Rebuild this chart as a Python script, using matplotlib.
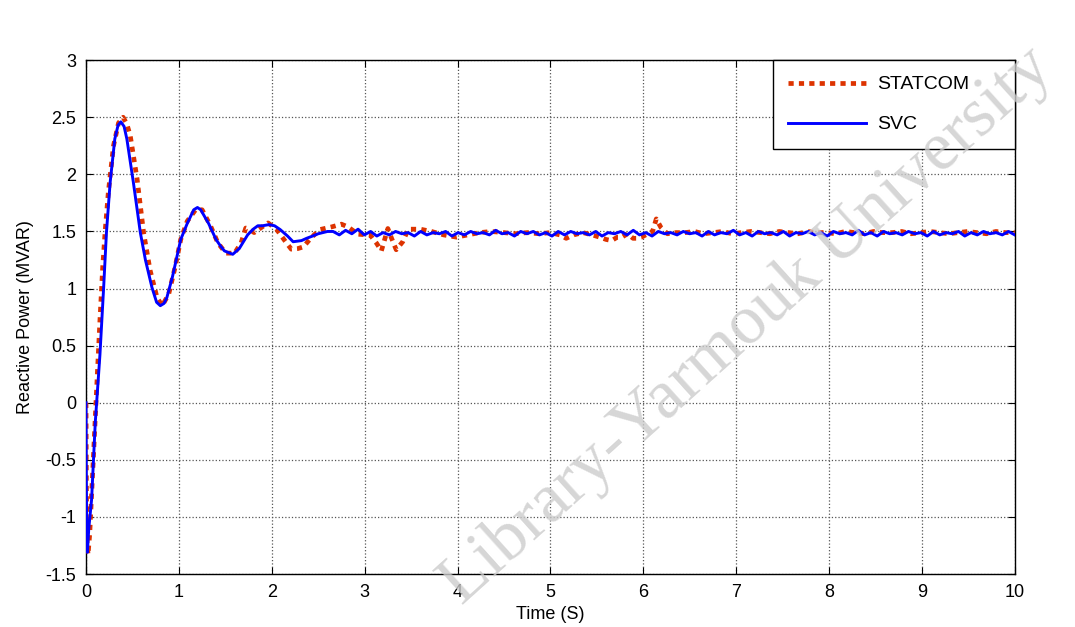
import numpy as np
import matplotlib
matplotlib.use('Agg')
import matplotlib.pyplot as plt

plt.rcParams['font.family'] = ['Liberation Sans', 'DejaVu Sans']

# STATCOM (red dotted) - transient part
t_statcom = [0.0, 0.004, 0.01, 0.022, 0.04, 0.08, 0.115, 0.15, 0.18, 0.205, 0.24, 0.296, 0.35, 0.40,
             0.44, 0.476, 0.55, 0.62, 0.69, 0.765, 0.82, 0.89, 0.96, 1.02, 1.09, 1.18, 1.25, 1.34,
             1.42, 1.505, 1.6, 1.67, 1.72, 1.76, 1.81, 1.88, 1.96, 2.05, 2.14, 2.21, 2.28, 2.34,
             2.43, 2.52, 2.645, 2.75, 2.82, 2.93, 3.06, 3.13, 3.18, 3.25, 3.29, 3.34, 3.41, 3.47,
             3.60, 3.72, 3.85, 3.99, 4.11, 4.24, 4.36, 4.5, 4.62, 4.75, 4.88, 5.0, 5.1, 5.17,
             5.25, 5.35, 5.45, 5.53, 5.6, 5.66, 5.72, 5.77, 5.83, 5.89, 5.93, 5.98, 6.05, 6.10,
             6.14, 6.19, 6.26, 6.35]
q_statcom = [0.0, -0.7, -1.2, -1.33, -1.15, -0.47, 0.13, 0.72, 1.19, 1.49, 1.84, 2.25, 2.45, 2.50,
             2.44, 2.34, 1.96, 1.49, 1.16, 0.92, 0.85, 0.95, 1.19, 1.43, 1.59, 1.69, 1.69, 1.55,
             1.40, 1.31, 1.31, 1.40, 1.53, 1.52, 1.49, 1.53, 1.575, 1.52, 1.42, 1.345, 1.35, 1.365,
             1.45, 1.517, 1.54, 1.564, 1.54, 1.476, 1.468, 1.395, 1.33, 1.526, 1.44, 1.34, 1.41, 1.52,
             1.52, 1.50, 1.47, 1.45, 1.47, 1.49, 1.50, 1.49, 1.48, 1.49, 1.48, 1.49, 1.47, 1.44,
             1.47, 1.49, 1.47, 1.45, 1.43, 1.42, 1.45, 1.45, 1.48, 1.44, 1.44, 1.45, 1.48, 1.50,
             1.61, 1.535, 1.48, 1.49]
# steady-state ripple of STATCOM after 6.4 s
q_statcom_tail = [1.49, 1.50, 1.48, 1.49, 1.50, 1.48, 1.49, 1.50, 1.49, 1.48, 1.50, 1.49,
                  1.48, 1.50, 1.49, 1.49, 1.48, 1.50, 1.49, 1.48, 1.50, 1.49, 1.49, 1.50,
                  1.48, 1.49, 1.50, 1.49, 1.48, 1.49, 1.50, 1.49, 1.48, 1.50, 1.49, 1.49]

# SVC (blue solid) - transient part
t_svc = [0.0, 0.003, 0.008, 0.015, 0.03, 0.06, 0.1, 0.15, 0.19, 0.22, 0.26, 0.31, 0.345, 0.375,
         0.41, 0.44, 0.51, 0.585, 0.64, 0.71, 0.76, 0.80, 0.84, 0.87, 0.93, 1.02, 1.09, 1.16,
         1.2, 1.235, 1.32, 1.40, 1.45, 1.49, 1.58, 1.65, 1.74, 1.80, 1.85, 1.9, 1.97, 2.03,
         2.09, 2.17, 2.23, 2.32, 2.375, 2.44, 2.50, 2.60]
q_svc = [0.0, -0.6, -1.2, -1.31, -1.1, -0.85, -0.17, 0.42, 1.01, 1.49, 1.93, 2.31, 2.43, 2.46,
         2.42, 2.31, 1.93, 1.49, 1.25, 1.01, 0.88, 0.85, 0.87, 0.92, 1.10, 1.43, 1.57, 1.69,
         1.71, 1.69, 1.57, 1.43, 1.37, 1.33, 1.30, 1.35, 1.47, 1.52, 1.55, 1.55, 1.56, 1.55,
         1.517, 1.46, 1.41, 1.42, 1.44, 1.46, 1.48, 1.50]
# steady-state ripple of SVC after 2.65 s
q_svc_tail = [1.50, 1.47, 1.51, 1.48, 1.52, 1.47, 1.50, 1.46, 1.49, 1.47,
              1.50, 1.48, 1.49, 1.46, 1.50, 1.47, 1.49, 1.48, 1.50, 1.46,
              1.49, 1.47, 1.50, 1.48, 1.49, 1.47, 1.51, 1.48, 1.49, 1.46,
              1.50, 1.48, 1.50, 1.47, 1.49, 1.46, 1.50, 1.47, 1.50, 1.48,
              1.49, 1.47, 1.50, 1.46, 1.49, 1.48, 1.50, 1.47, 1.51, 1.47,
              1.49, 1.46, 1.50, 1.48, 1.49, 1.47, 1.50, 1.48, 1.49, 1.46,
              1.50, 1.47, 1.49, 1.48, 1.51, 1.47, 1.49, 1.46, 1.50, 1.48,
              1.49, 1.47, 1.50, 1.46, 1.49, 1.48, 1.50, 1.47, 1.49, 1.46,
              1.50, 1.48, 1.49, 1.47, 1.51, 1.47, 1.49, 1.46, 1.50, 1.48,
              1.49, 1.47, 1.50, 1.48, 1.49, 1.46, 1.50, 1.47, 1.49, 1.48,
              1.50, 1.46, 1.49, 1.47, 1.50, 1.48, 1.49, 1.47, 1.50, 1.47]

xticks = list(range(0, 11))
yticks = [-1.5, -1, -0.5, 0, 0.5, 1, 1.5, 2, 2.5, 3]
yticklabels = ['-1.5', '-1', '-0.5', '0', '0.5', '1', '1.5', '2', '2.5', '3']

# sample times of the ripple tails
t_st = np.concatenate([t_statcom, np.linspace(6.45, 10, len(q_statcom_tail))])
y_st = np.concatenate([q_statcom, q_statcom_tail])
t_sv = np.concatenate([t_svc, np.linspace(2.66, 10, len(q_svc_tail))])
y_sv = np.concatenate([q_svc, q_svc_tail])

fig = plt.figure(figsize=(10.75, 6.27), dpi=100)
ax = fig.add_axes([0.080, 0.0845, 0.864, 0.8195])

ax.plot(t_st, y_st, color='#dd3300', lw=3.4, dashes=(1.1, 1.1), label='STATCOM', zorder=3)
ax.plot(t_sv, y_sv, color='#0000ff', lw=2.1, label='SVC', zorder=4)

ax.set_xlim(0, 10)
ax.set_ylim(-1.5, 3)
ax.set_xticks(xticks)
ax.set_yticks(yticks)
ax.set_yticklabels(yticklabels)
ax.grid(True, color='#555555', linestyle=':', linewidth=0.9)
ax.tick_params(direction='in', top=True, right=True, length=5, labelsize=13, pad=7)
for s in ax.spines.values():
    s.set_linewidth(1.0)

ax.set_xlabel('Time (S)', fontsize=13, labelpad=4)
ax.set_ylabel('Reactive Power (MVAR)', fontsize=13, labelpad=8)

# legend box spans x 773..1015 px like the original
leg = ax.legend(loc='upper left', bbox_to_anchor=(0.7395, 0.0, 0.2605, 1.0), mode='expand',
                borderaxespad=0, fontsize=14, handlelength=4.0, handletextpad=0.55,
                labelspacing=1.15, borderpad=0.8, fancybox=False, framealpha=1,
                edgecolor='black')
leg.get_frame().set_linewidth(1.0)

# watermark
fig.text(0.695, 0.48, 'Library-Yarmouk University', family='Liberation Serif', fontsize=50,
         color='#cccccc', alpha=0.8, rotation=42, ha='center', va='center', zorder=10)

fig.savefig('out.png', dpi=100)
